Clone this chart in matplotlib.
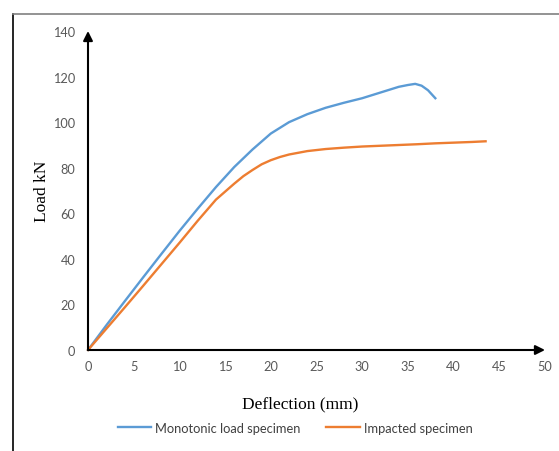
import matplotlib.pyplot as plt
from matplotlib.lines import Line2D

# monotonic load specimen
mono_x = [0, 2, 4, 6, 8, 10, 12, 14, 16, 18, 20, 22, 24, 26, 28, 30, 32, 34, 35, 35.8, 36.5, 37.2, 38]
mono_y = [0, 10.8, 21.3, 31.7, 42, 52.2, 62, 71.5, 80.3, 88, 95, 100, 103.5, 106.3, 108.5, 110.5, 113, 115.5, 116.3, 116.8, 116, 114, 110.5]

# impacted specimen
imp_x = [0, 2, 4, 6, 8, 10, 12, 14, 15, 16, 17, 18, 19, 20, 21, 22, 24, 26, 28, 30, 33, 36, 38, 40, 42, 43.5]
imp_y = [0, 9.3, 18.6, 28, 37.5, 47, 56.7, 66, 69.5, 73, 76.3, 79, 81.5, 83.3, 84.7, 85.8, 87.3, 88.2, 88.8, 89.3, 89.8, 90.3, 90.7, 91, 91.3, 91.6]

x_ticks = [0, 5, 10, 15, 20, 25, 30, 35, 40, 45, 50]
y_ticks = [0, 20, 40, 60, 80, 100, 120, 140]

W, H = 559, 452
fig = plt.figure(figsize=(W / 100, H / 100), dpi=100)
ax = fig.add_axes([88 / W, 1 - 351 / H, (545 - 88) / W, (351 - 32) / H])

ax.plot(mono_x, mono_y, color='#5B9BD5', lw=1.7, label='Monotonic load specimen', clip_on=False)
ax.plot(imp_x, imp_y, color='#ED7D31', lw=1.7, label='Impacted specimen', clip_on=False)

ax.set_xlim(0, 50)
ax.set_ylim(0, 140)
ax.set_xticks(x_ticks)
ax.set_yticks(y_ticks)
for s in ax.spines.values():
    s.set_visible(False)
ax.tick_params(length=0, labelsize=9.2, labelcolor='#595959', labelfontfamily='Lato')
ax.tick_params(axis='y', pad=9)
ax.tick_params(axis='x', pad=7)

# axes drawn as arrows
ax.annotate('', xy=(50, 0), xytext=(0, 0), annotation_clip=False,
            arrowprops=dict(arrowstyle='-|>', color='black', lw=1.5, mutation_scale=14, shrinkA=0, shrinkB=0))
ax.annotate('', xy=(0, 140), xytext=(0, 0), annotation_clip=False,
            arrowprops=dict(arrowstyle='-|>', color='black', lw=1.5, mutation_scale=14, shrinkA=0, shrinkB=0))

fig.text(300 / W, 1 - 404 / H, 'Deflection (mm)', family='Liberation Serif', fontsize=12.5,
         ha='center', va='center')
fig.text(42 / W, 1 - 191 / H, 'Load kN', family='Liberation Serif', fontsize=12.5,
         ha='center', va='center', rotation=90)

fig.legend(loc='center', bbox_to_anchor=(295 / W, 1 - 429 / H), ncol=2, frameon=False,
           prop={'family': 'Lato', 'size': 9.3}, labelcolor='#404040',
           handlelength=2.6, columnspacing=2.0, handletextpad=0.3)

# outer frame lines
fig.add_artist(Line2D([13 / W, 13 / W], [0, 1 - 15 / H], color='black', lw=1.2))
fig.add_artist(Line2D([13 / W, 1], [1 - 15 / H, 1 - 15 / H], color='#808080', lw=1.2))

fig.savefig('out.png', dpi=100)
